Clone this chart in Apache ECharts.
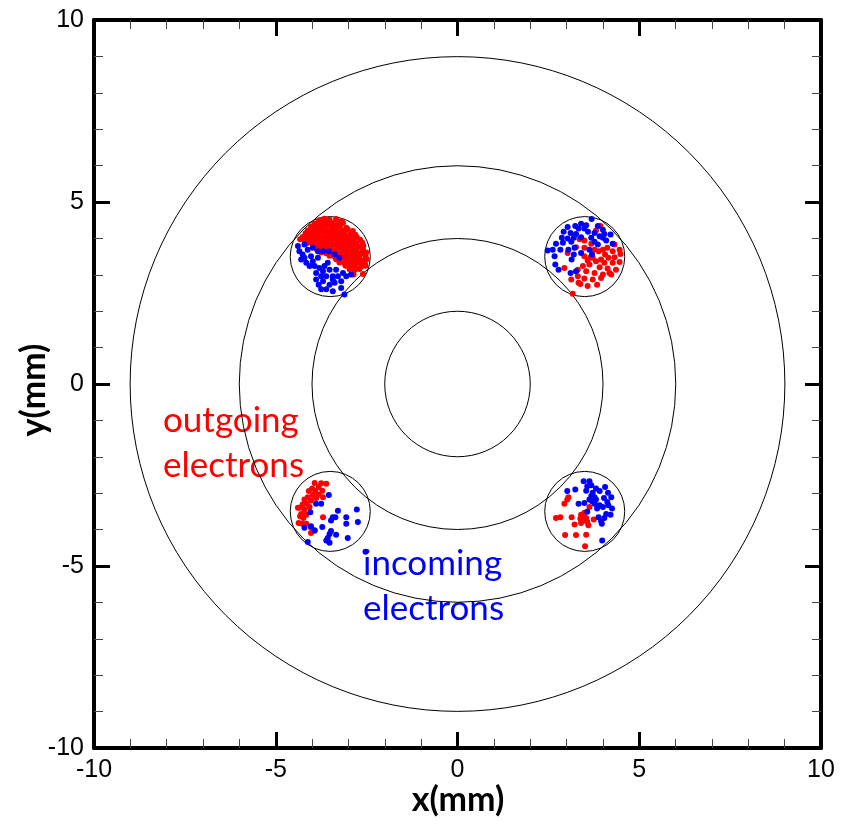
<!DOCTYPE html>
<html>
<head>
<meta charset="utf-8">
<script src="https://cdn.jsdelivr.net/npm/echarts@6/dist/echarts.min.js"></script>
<style>
html, body { margin: 0; padding: 0; background: #fff; }
#chart { width: 843px; height: 828px; }
</style>
</head>
<body>
<div id="chart"></div>
<script>
// Axis range (mm)
const axisMin = -10;
const axisMax = 10;
const axisStep = 5;

// Concentric rings around the origin (radius, mm)
const ringRadii = [2, 4, 6, 9];
// Apertures: centre x, centre y (mm) and radius
const apertureCentres = [[-3.5, 3.5], [3.5, 3.5], [-3.5, -3.5], [3.5, -3.5]];
const apertureRadius = 1.1;

// Outgoing electrons (x, y in mm), per aperture
const outgoingUpperLeft = [
  [-3.80,4.50],[-3.66,4.54],[-3.52,4.51],[-3.34,4.53],[-3.20,4.47],
  [-3.93,4.41],[-3.82,4.44],[-3.69,4.40],[-3.57,4.45],[-3.43,4.42],[-3.29,4.39],[-3.15,4.43],
  [-4.03,4.32],[-3.89,4.35],[-3.75,4.31],[-3.61,4.36],[-3.48,4.33],[-3.36,4.30],[-3.23,4.35],[-3.06,4.29],
  [-4.12,4.22],[-3.98,4.25],[-3.84,4.23],[-3.72,4.26],[-3.59,4.21],[-3.45,4.24],[-3.32,4.27],[-3.17,4.22],[-3.02,4.25],[-2.88,4.20],
  [-4.18,4.14],[-4.05,4.16],[-3.93,4.13],[-3.80,4.17],[-3.66,4.15],[-3.52,4.12],[-3.38,4.16],[-3.25,4.14],[-3.11,4.17],[-2.95,4.13],[-2.81,4.10],
  [-4.26,4.04],[-4.13,4.07],[-4.00,4.05],[-3.87,4.08],[-3.74,4.03],[-3.61,4.06],[-3.47,4.08],[-3.34,4.04],[-3.19,4.07],[-3.06,4.05],[-2.92,4.08],[-2.77,4.03],
  [-4.33,3.98],[-4.20,3.95],[-4.07,3.97],[-3.93,3.99],[-3.80,3.96],[-3.66,3.98],[-3.52,3.95],[-3.38,3.99],[-3.25,3.96],[-3.11,3.98],[-2.97,3.95],[-2.83,3.99],[-2.68,3.96],
  [-4.16,3.86],[-4.03,3.89],[-3.89,3.87],[-3.75,3.90],[-3.61,3.86],[-3.48,3.88],[-3.34,3.85],[-3.20,3.89],[-3.06,3.87],[-2.93,3.90],[-2.79,3.86],[-2.62,3.88],
  [-3.98,3.80],[-3.84,3.77],[-3.70,3.80],[-3.57,3.78],[-3.43,3.81],[-3.29,3.77],[-3.15,3.80],[-3.02,3.78],[-2.88,3.81],[-2.73,3.77],[-2.59,3.80],
  [-3.87,3.70],[-3.72,3.68],[-3.59,3.71],[-3.45,3.69],[-3.32,3.67],[-3.17,3.70],[-3.05,3.68],[-2.90,3.71],[-2.77,3.68],[-2.60,3.70],
  [-3.75,3.61],[-3.61,3.59],[-3.48,3.62],[-3.34,3.60],[-3.20,3.58],[-3.06,3.61],[-2.93,3.59],[-2.79,3.62],[-2.64,3.59],[-2.51,3.61],
  [-3.52,3.52],[-3.38,3.50],[-3.25,3.53],[-3.11,3.50],[-2.97,3.52],[-2.83,3.49],[-2.70,3.52],[-2.53,3.50],
  [-3.34,3.43],[-3.20,3.41],[-3.06,3.44],[-2.93,3.41],[-2.79,3.43],[-2.65,3.40],[-2.50,3.43],
  [-3.25,3.34],[-3.11,3.32],[-2.97,3.35],[-2.83,3.32],[-2.70,3.34],[-2.55,3.31],
  [-3.08,3.25],[-2.95,3.23],[-2.81,3.26],[-2.65,3.22],[-2.53,3.25],
  [-2.97,3.15],[-2.83,3.13],[-2.70,3.16],
  [-2.86,3.01],[-2.60,3.02]
];
const outgoingUpperRight = [
  [3.93,4.34],[3.81,4.22],[3.36,3.98],[3.26,3.76],[3.03,3.60],[3.49,3.51],[3.66,3.48],
  [3.88,3.65],[4.00,3.69],[4.12,3.74],[4.27,3.65],[4.46,3.69],[4.48,3.57],[4.32,3.48],
  [4.15,3.47],[3.95,3.42],[3.81,3.37],[4.04,3.33],[4.27,3.33],[4.46,3.35],[3.63,3.28],
  [3.45,3.24],[3.91,3.21],[4.13,3.17],[4.36,3.14],[2.94,3.19],[3.31,3.14],[3.54,3.10],
  [3.77,3.05],[4.00,3.01],[4.23,3.01],[3.31,2.96],[3.49,2.90],[3.72,2.87],[3.95,2.91],
  [3.38,2.75],[3.58,2.69],[3.84,2.73],[3.17,2.48],[3.33,2.78],[3.49,3.74],[3.72,3.47],
  [4.06,3.56],[4.32,3.83],[4.18,3.05],[3.13,2.87],[3.68,3.85],[3.58,3.39],[3.77,3.69],
  [3.49,3.94]
];
const outgoingLowerLeft = [
  [-3.93,-2.72],[-3.75,-2.73],[-3.61,-2.74],[-3.82,-2.83],[-4.00,-2.87],[-4.09,-2.94],
  [-3.91,-2.94],[-3.72,-2.93],[-3.82,-3.04],[-3.98,-3.05],[-4.12,-3.11],[-3.70,-3.11],
  [-4.21,-3.17],[-4.03,-3.20],[-3.89,-3.13],[-4.26,-3.31],[-4.15,-3.29],[-4.35,-3.40],
  [-4.21,-3.45],[-4.07,-3.38],[-4.30,-3.57],[-4.16,-3.59],[-4.33,-3.63],[-4.24,-3.68],
  [-4.37,-3.82],[-4.27,-3.84],[-4.16,-3.84],[-4.03,-3.95],[-4.03,-4.09],[-3.70,-3.66],
  [-3.93,-4.03],[-4.39,-3.40]
];
const outgoingLowerRight = [
  [3.05,-3.11],[3.02,-3.17],[2.94,-3.29],[3.63,-3.38],[3.49,-3.54],[3.45,-3.63],
  [3.54,-3.68],[2.71,-3.68],[2.83,-3.66],[3.14,-3.66],[3.38,-3.70],[3.47,-3.75],
  [3.57,-3.79],[3.75,-3.72],[3.40,-3.82],[3.60,-3.88],[3.22,-3.86],[2.96,-4.15],
  [3.26,-4.15],[3.54,-4.14],[3.51,-4.46],[3.40,-3.59]
];

// Incoming electrons (x, y in mm), per aperture
const incomingUpperLeft = [
  [-4.39,3.79],[-4.35,3.65],[-4.26,3.56],[-4.30,3.42],[-4.16,3.33],[-4.07,3.24],
  [-3.93,3.24],[-3.80,3.19],[-3.70,3.10],[-3.75,2.96],[-3.61,2.96],[-3.89,2.87],
  [-3.82,2.73],[-3.75,2.60],[-3.52,2.73],[-3.38,2.78],[-3.43,2.96],[-3.29,2.96],
  [-3.20,2.64],[-3.11,2.46],[-3.34,3.14],[-3.57,3.33],[-3.84,3.47],[-4.03,3.51],
  [-3.98,3.74],[-4.12,3.69],[-3.70,3.65],[-3.54,3.65],[-3.38,3.56],[-3.25,3.47],
  [-4.21,3.83],[-3.06,2.96],[-3.20,2.82],[-2.93,3.01],[-3.89,3.05],[-3.61,2.60],
  [-3.43,2.55],[-3.52,3.14],[-3.66,3.24],[-3.98,3.37],[-4.21,3.47],[-3.84,3.65],
  [-3.43,2.87],[-3.15,3.05],[-3.70,2.82]
];
const incomingUpperRight = [
  [3.69,4.53],[3.40,4.40],[3.54,4.36],[3.24,4.34],[3.03,4.31],[3.33,4.27],[3.49,4.27],
  [3.86,4.34],[4.00,4.24],[2.92,4.18],[3.11,4.15],[3.26,4.12],[3.59,4.18],[3.77,4.15],
  [4.04,4.12],[4.21,4.11],[3.91,4.06],[2.87,4.02],[3.03,4.00],[3.20,4.02],[3.40,4.03],
  [3.68,4.02],[4.00,4.02],[2.71,3.85],[2.90,3.88],[3.13,3.91],[3.77,3.91],[4.09,3.94],
  [4.27,3.85],[2.48,3.67],[2.62,3.69],[2.83,3.69],[3.05,3.69],[3.22,3.74],[3.63,3.69],
  [3.86,3.83],[2.67,3.51],[3.20,3.56],[3.40,3.60],[3.70,3.56],[2.69,3.28],[2.78,3.14],
  [3.11,3.05],[3.26,3.10],[3.14,3.42]
];
const incomingLowerLeft = [
  [-3.54,-3.05],[-3.89,-3.29],[-3.75,-3.29],[-4.05,-3.52],[-3.29,-3.48],[-2.77,-3.45],
  [-3.43,-3.66],[-3.36,-3.66],[-3.06,-3.66],[-3.48,-3.75],[-2.74,-3.79],[-3.06,-3.84],
  [-4.21,-3.95],[-4.03,-3.91],[-3.93,-4.02],[-3.72,-3.93],[-3.48,-4.04],[-3.52,-4.12],
  [-3.34,-4.14],[-3.57,-4.23],[-3.61,-4.30],[-3.52,-4.36],[-3.02,-4.23],[-4.12,-4.34],
  [-2.53,-4.61]
];
const incomingLowerRight = [
  [3.47,-2.67],[3.63,-2.67],[3.57,-2.81],[3.68,-2.78],[3.02,-2.94],[3.24,-2.90],
  [3.81,-2.87],[4.06,-2.83],[3.72,-2.99],[3.91,-2.94],[4.14,-2.99],[3.68,-3.08],
  [3.77,-3.11],[3.63,-3.17],[3.81,-3.17],[4.03,-3.13],[4.23,-3.11],[3.49,-3.27],
  [3.33,-3.29],[3.70,-3.22],[4.12,-3.24],[4.15,-3.33],[3.91,-3.33],[4.00,-3.38],
  [4.25,-3.42],[3.84,-3.42],[3.57,-3.51],[4.09,-3.57],[4.21,-3.59],[3.88,-3.66],
  [4.04,-3.68],[3.95,-3.77],[3.97,-3.84],[3.98,-4.30],[3.54,-2.93],[3.77,-3.29]
];

const outgoing = [].concat(outgoingUpperLeft, outgoingUpperRight, outgoingLowerLeft, outgoingLowerRight);
const incoming = [].concat(incomingUpperLeft, incomingUpperRight, incomingLowerLeft, incomingLowerRight);

const circles = ringRadii.map(r => [0, 0, r])
  .concat(apertureCentres.map(c => [c[0], c[1], apertureRadius]));

const labelFont = 'Liberation Sans, Arial, sans-serif';

function frameAxis(position, showLabels) {
  return {
    type: 'value',
    position: position,
    min: axisMin,
    max: axisMax,
    interval: axisStep,
    axisLine: { show: true, onZero: false, lineStyle: { color: '#000', width: 4 } },
    axisTick: { show: true, inside: true, length: 16, lineStyle: { color: '#000', width: 3 } },
    minorTick: { show: true, splitNumber: 5, length: 9, lineStyle: { color: '#444', width: 1 } },
    splitLine: { show: false },
    minorSplitLine: { show: false },
    axisLabel: {
      show: showLabels,
      color: '#000',
      fontSize: 25,
      fontFamily: labelFont,
      margin: 10
    }
  };
}

const chart = echarts.init(document.getElementById('chart'), null, { renderer: 'canvas' });

chart.setOption({
  animation: false,
  backgroundColor: '#fff',
  grid: { left: 94, right: 22, top: 20, bottom: 80, containLabel: false },
  xAxis: [frameAxis('bottom', true), frameAxis('top', false)],
  yAxis: [frameAxis('left', true), frameAxis('right', false)],
  series: [
    {
      type: 'custom',
      name: 'rings',
      xAxisIndex: 0,
      yAxisIndex: 0,
      silent: true,
      clip: false,
      data: circles,
      encode: { x: 0, y: 1 },
      renderItem: function (params, api) {
        const c = api.coord([api.value(0), api.value(1)]);
        const s = api.size([api.value(2), api.value(2)]);
        return {
          type: 'circle',
          shape: { cx: c[0], cy: c[1], r: (s[0] + s[1]) / 2 },
          style: { fill: 'none', stroke: '#000', lineWidth: 1 }
        };
      }
    },
    {
      type: 'scatter',
      name: 'outgoing electrons',
      xAxisIndex: 0,
      yAxisIndex: 0,
      data: outgoing,
      symbol: 'circle',
      symbolSize: 6,
      itemStyle: { color: '#ff0000', opacity: 1 }
    },
    {
      type: 'scatter',
      name: 'incoming electrons',
      xAxisIndex: 0,
      yAxisIndex: 0,
      data: incoming,
      symbol: 'circle',
      symbolSize: 6,
      itemStyle: { color: '#0000ff', opacity: 1 }
    }
  ],
  graphic: [
    { type: 'text', x: 458, y: 800,
      style: { text: 'x(mm)', font: 'bold 34px Lato, sans-serif', fill: '#000',
               align: 'center', verticalAlign: 'middle', textAlign: 'center', textVerticalAlign: 'middle' } },
    { type: 'text', x: 34, y: 390, rotation: Math.PI / 2,
      style: { text: 'y(mm)', font: 'bold 34px Lato, sans-serif', fill: '#000',
               align: 'center', verticalAlign: 'middle', textAlign: 'center', textVerticalAlign: 'middle' } },
    { type: 'text', x: 163, y: 421,
      style: { text: 'outgoing', font: '35px Lato, sans-serif', fill: '#ff0000',
               align: 'left', verticalAlign: 'middle', textAlign: 'left', textVerticalAlign: 'middle' } },
    { type: 'text', x: 163, y: 466,
      style: { text: 'electrons', font: '35px Lato, sans-serif', fill: '#ff0000',
               align: 'left', verticalAlign: 'middle', textAlign: 'left', textVerticalAlign: 'middle' } },
    { type: 'text', x: 363, y: 564,
      style: { text: 'incoming', font: '35px Lato, sans-serif', fill: '#0000ff',
               align: 'left', verticalAlign: 'middle', textAlign: 'left', textVerticalAlign: 'middle' } },
    { type: 'text', x: 363, y: 609,
      style: { text: 'electrons', font: '35px Lato, sans-serif', fill: '#0000ff',
               align: 'left', verticalAlign: 'middle', textAlign: 'left', textVerticalAlign: 'middle' } }
  ]
});
</script>
</body>
</html>
